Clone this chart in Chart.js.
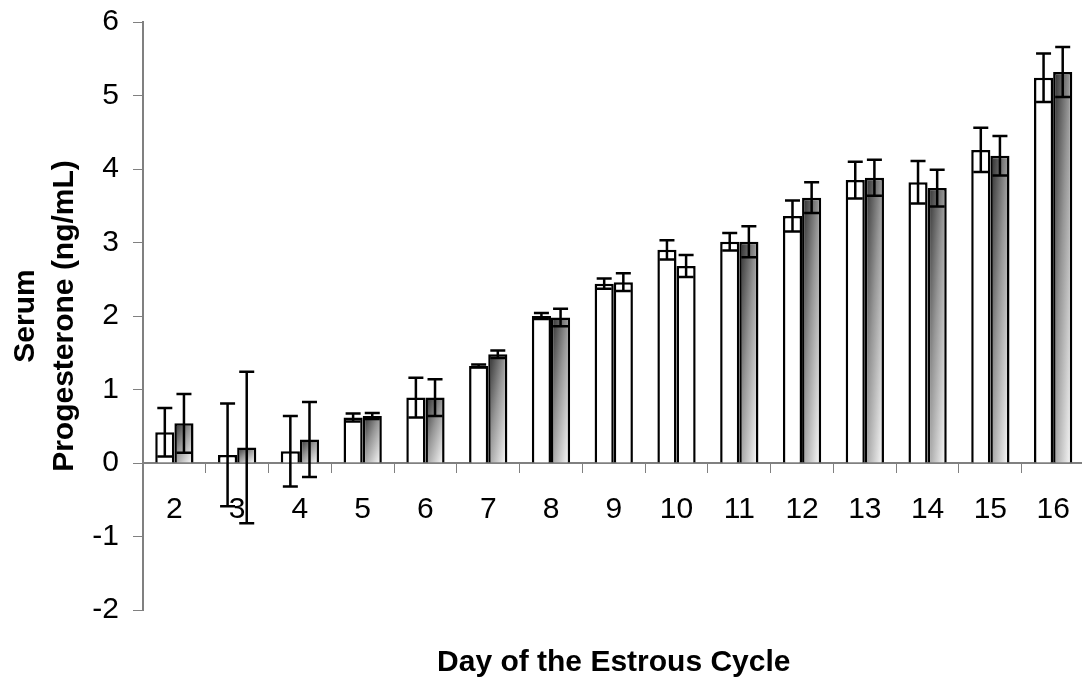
<!DOCTYPE html>
<html>
<head>
<meta charset="utf-8">
<script src="https://cdn.jsdelivr.net/npm/chart.js@4/dist/chart.umd.min.js"></script>
<style>
  html, body { margin: 0; padding: 0; background: #fff; overflow: hidden; }
  canvas { display: block; }
</style>
</head>
<body>
<canvas id="myChart" width="1090" height="683"></canvas>
<script>
var days = ["2", "3", "4", "5", "6", "7", "8", "9", "10", "11", "12", "13", "14", "15", "16"];

// white bars
var meansA = [0.42, 0.11, 0.16, 0.62, 0.89, 1.32, 2.00, 2.44, 2.90, 3.01, 3.36, 3.85, 3.82, 4.26, 5.24];
var errA = [0.33, 0.70, 0.48, 0.055, 0.27, 0.02, 0.04, 0.07, 0.13, 0.12, 0.21, 0.25, 0.29, 0.30, 0.33];

// shaded bars
var meansB = [0.54, 0.21, 0.32, 0.64, 0.89, 1.48, 1.98, 2.46, 2.68, 3.01, 3.61, 3.88, 3.74, 4.18, 5.32];
var errB = [0.40, 1.03, 0.51, 0.04, 0.25, 0.05, 0.12, 0.12, 0.15, 0.21, 0.21, 0.245, 0.25, 0.27, 0.34];

var yTicks = [-2, -1, 0, 1, 2, 3, 4, 5, 6];
var unshadedDays = ["9", "10"];

var font = "'Liberation Sans', Arial, sans-serif";

// diagonal shading: dark top-left corner to white bottom-right corner
var shadePlugin = {
  id: "shade",
  beforeDatasetsDraw: function(chart) {
    var c = chart.ctx;
    chart.getDatasetMeta(1).data.forEach(function(el, i) {
      if (unshadedDays.indexOf(days[i]) >= 0) return;
      var w = el.width, x0 = el.x - w / 2;
      var top = Math.min(el.y, el.base), h = Math.abs(el.base - el.y);
      if (h < 1) return;
      var k = (2 * w * h) / (h * h + w * w);
      var g = c.createLinearGradient(x0, top, x0 + k * h, top + k * w);
      g.addColorStop(0, "#2a2a2a");
      g.addColorStop(0.45, "#969696");
      g.addColorStop(1, "#ffffff");
      el.options.backgroundColor = g;
    });
  }
};

var errorBarPlugin = {
  id: "errorBars",
  afterDatasetsDraw: function(chart) {
    var c = chart.ctx, y = chart.scales.y;
    [errA, errB].forEach(function(errs, d) {
      var vals = chart.data.datasets[d].data;
      chart.getDatasetMeta(d).data.forEach(function(el, i) {
        var hi = y.getPixelForValue(vals[i] + errs[i]);
        var lo = y.getPixelForValue(vals[i] - errs[i]);
        c.save();
        c.strokeStyle = "#000";
        c.lineWidth = 2.5;
        c.beginPath();
        c.moveTo(el.x, hi); c.lineTo(el.x, lo);
        c.moveTo(el.x - 7.5, hi); c.lineTo(el.x + 7.5, hi);
        c.moveTo(el.x - 7.5, lo); c.lineTo(el.x + 7.5, lo);
        c.stroke();
        c.restore();
      });
    });
  }
};

var config = {
  type: "bar",
  data: {
    labels: days,
    datasets: [
      {
        label: "A",
        data: meansA,
        backgroundColor: "#ffffff",
        borderColor: "#000",
        borderWidth: 2.5,
        categoryPercentage: 0.61,
        barPercentage: 1.0
      },
      {
        label: "B",
        data: meansB,
        backgroundColor: function(ctx) {
          return unshadedDays.indexOf(days[ctx.dataIndex]) >= 0 ? "#ffffff" : "#999999";
        },
        borderColor: "#000",
        borderWidth: 2.5,
        categoryPercentage: 0.61,
        barPercentage: 1.0
      }
    ]
  },
  options: {
    responsive: false,
    animation: false,
    layout: { padding: { top: 0, left: 0, right: 2, bottom: 2 } },
    plugins: {
      legend: { display: false },
      tooltip: { enabled: false },
      title: {
        display: true,
        position: "bottom",
        fullSize: false,
        text: "Day of the Estrous Cycle",
        color: "#000",
        font: { family: font, size: 30, weight: "bold", lineHeight: 1.2 },
        padding: { top: 35, bottom: 0 }
      }
    },
    scales: {
      x: {
        position: { y: 0 },
        offset: true,
        grid: { offset: true, drawOnChartArea: false, drawTicks: true, tickLength: 9, color: "#808080", lineWidth: 1 },
        border: { display: true, color: "#808080", width: 2 },
        ticks: { color: "#000", font: { family: font, size: 30 }, padding: 20, maxRotation: 0, autoSkip: false }
      },
      y: {
        min: -2,
        max: 6,
        afterBuildTicks: function(scale) {
          scale.ticks = yTicks.map(function(v) { return { value: v }; });
        },
        afterFit: function(scale) {
          scale.width = 143;
          scale.paddingTop = 22;
        },
        grid: { drawOnChartArea: false, drawTicks: true, tickLength: 10, color: "#808080", lineWidth: 1 },
        border: { display: true, color: "#808080", width: 2 },
        ticks: { color: "#000", font: { family: font, size: 30 }, padding: 14 },
        title: {
          display: true,
          text: ["Serum", "Progesterone (ng/mL)"],
          color: "#000",
          font: { family: font, size: 30, weight: "bold", lineHeight: 1.3 },
          padding: { top: 6, bottom: 0 }
        }
      }
    }
  },
  plugins: [shadePlugin, errorBarPlugin]
};

var myChart = new Chart(document.getElementById("myChart"), config);
</script>
</body>
</html>
